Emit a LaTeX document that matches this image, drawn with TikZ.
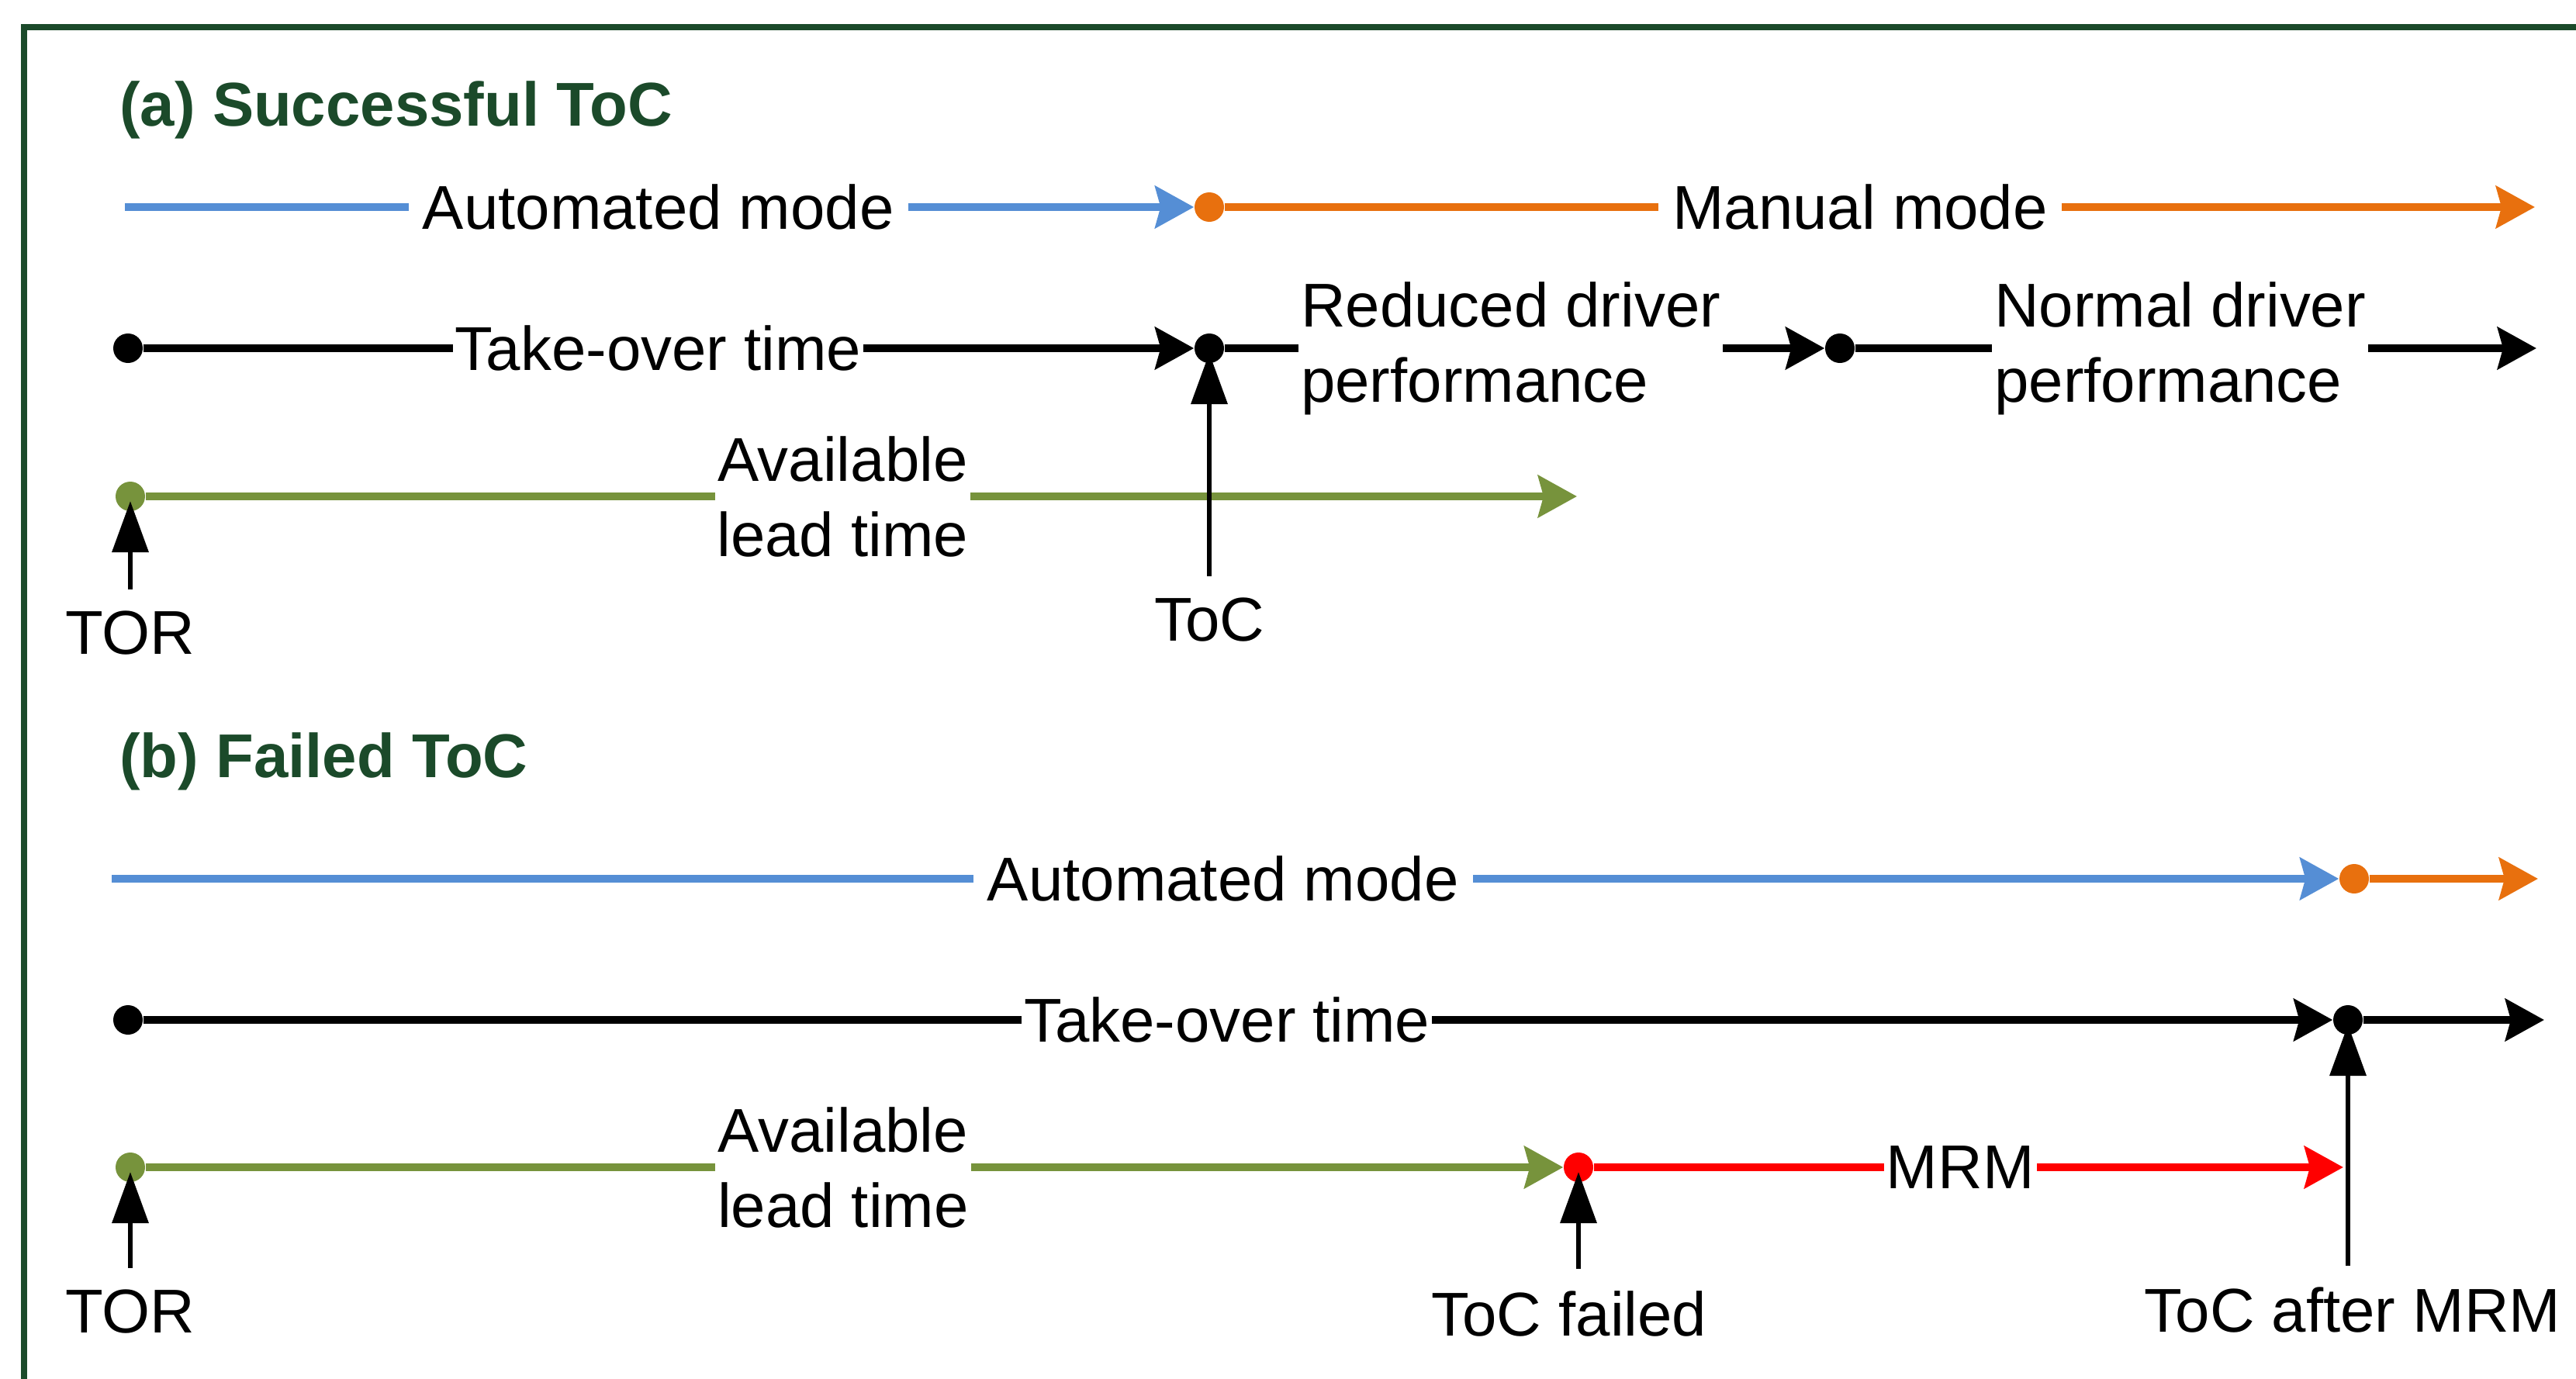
\documentclass[tikz,border=0pt]{standalone}
\usepackage{fontspec}
\setmainfont{Liberation Sans}
\usetikzlibrary{arrows.meta}
\definecolor{autoblue}{HTML}{558ED5}
\definecolor{manorange}{HTML}{E8700E}
\definecolor{leadgreen}{HTML}{77933C}
\definecolor{titlegreen}{HTML}{1B4A2A}
\begin{document}
\begin{tikzpicture}[every node/.style={font=\fontsize{22.7}{27.6}\selectfont},
  tline/.style={line width=2.85pt,-{Stealth[length=0.5cm,width=0.54cm,inset=0.07cm]}},
  dot/.style={circle,fill=#1,minimum size=0.38cm,inner sep=0pt},dot/.default=black,
  lab/.style={fill=white,text=black,inner xsep=0.03cm,inner ysep=0.02cm,align=center},
  modelab/.style={lab,inner xsep=0.18cm},
  evt/.style={anchor=base,inner sep=0.27cm},
  uparr/.style={line width=1.9pt,-{Triangle[length=0.66cm,width=0.46cm]},shorten >=0.06cm},
  ttl/.style={anchor=base west,text=titlegreen,font=\fontsize{22.7}{27.6}\selectfont\bfseries}]
\useasboundingbox (0,0) rectangle (33.21,-17.78);
\draw[titlegreen,line width=0.08cm] (0.31,-17.78) -- (0.31,-0.35) -- (33.21,-0.35);
\node[ttl] (ttla) at (1.42,-1.62) {(a) Successful ToC};
\coordinate (am0) at (1.61,-2.67);
\node[dot=manorange] (am1) at (15.59,-2.67) {};
\coordinate (am2) at (32.68,-2.67);
\draw[tline,autoblue] (am0) -- node[modelab,pos=0.499]{Automated mode} (am1);
\draw[tline,manorange] (am1) -- node[modelab,pos=0.485]{Manual mode} (am2);
\node[dot] (at0) at (1.65,-4.49) {};
\node[dot] (at1) at (15.59,-4.49) {};
\node[dot] (at2) at (23.72,-4.49) {};
\coordinate (at3) at (32.70,-4.49);
\draw[tline] (at0) -- node[lab,pos=0.49]{Take-over time} (at1);
\draw[tline] (at1) -- node[lab,align=left,pos=0.477]{Reduced driver\\performance} (at2);
\draw[tline] (at2) -- node[lab,align=left,pos=0.477]{Normal driver\\performance} (at3);
\node[dot=leadgreen] (ag0) at (1.68,-6.40) {};
\coordinate (ag1) at (20.33,-6.40);
\draw[tline,leadgreen] (ag0) -- node[lab,pos=0.487]{Available\\lead time} (ag1);
\node[evt] (tora) at (1.68,-8.43) {TOR};
\node[evt] (toca) at (15.59,-8.26) {ToC};
\node[ttl] (ttlb) at (1.42,-10.02) {(b) Failed ToC};
\coordinate (bm0) at (1.44,-11.33);
\node[dot=manorange] (bm1) at (30.35,-11.33) {};
\coordinate (bm2) at (32.72,-11.33);
\draw[tline,autoblue] (bm0) -- node[modelab,pos=0.499]{Automated mode} (bm1);
\draw[tline,manorange] (bm1) -- (bm2);
\node[dot] (bt0) at (1.65,-13.15) {};
\node[dot] (bt1) at (30.27,-13.15) {};
\coordinate (bt2) at (32.80,-13.15);
\draw[tline] (bt0) -- node[lab,pos=0.495]{Take-over time} (bt1);
\draw[tline] (bt1) -- (bt2);
\node[dot=leadgreen] (bg0) at (1.68,-15.05) {};
\node[dot=red] (bg1) at (20.35,-15.05) {};
\coordinate (bg2) at (30.21,-15.05);
\draw[tline,leadgreen] (bg0) -- node[lab,pos=0.492]{Available\\lead time} (bg1);
\draw[tline,red] (bg1) -- node[lab,pos=0.489]{MRM} (bg2);
\node[evt] (torb) at (1.68,-17.18) {TOR};
\node[evt] (tocf) at (20.23,-17.22) {ToC failed};
\node[evt] (tocm) at (30.33,-17.17) {ToC after MRM};
\foreach \lbl/\dt in {tora/ag0, toca/at1, torb/bg0, tocf/bg1, tocm/bt1}
    \draw[uparr] (\lbl.north -| \dt) -- (\dt.center);
\end{tikzpicture}
\end{document}
